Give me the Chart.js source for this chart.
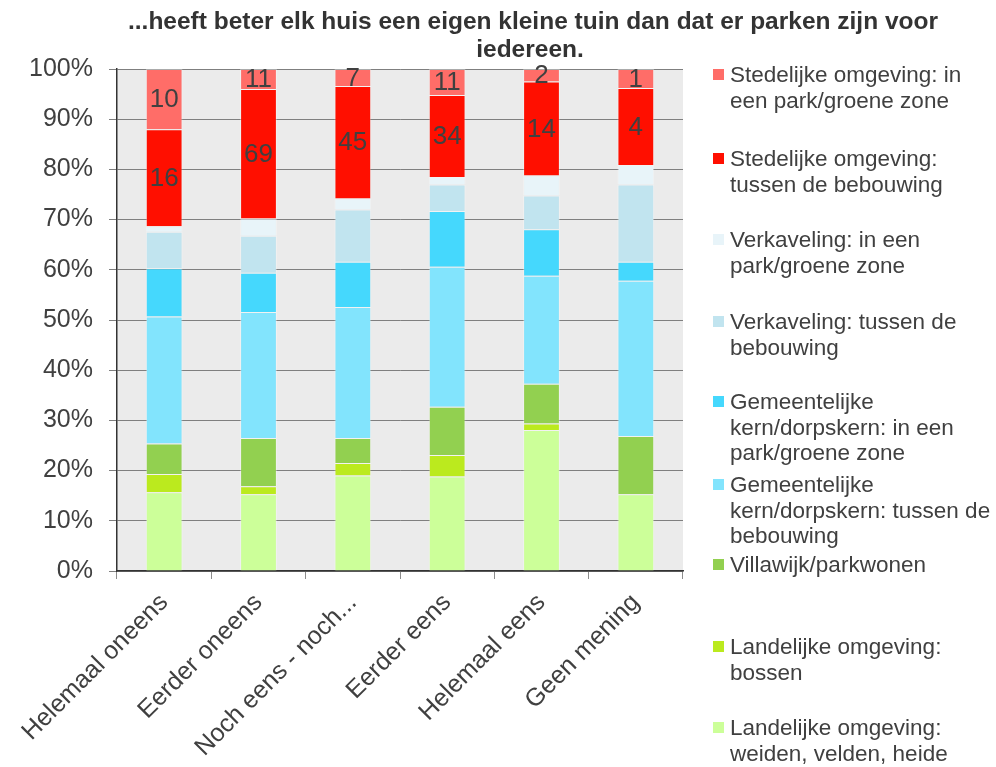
<!DOCTYPE html>
<html>
<head>
<meta charset="utf-8">
<script src="https://cdn.jsdelivr.net/npm/chart.js@4.4.1/dist/chart.umd.min.js"></script>
<style>
    body { margin: 0; background: #fff; }
    #wrap { position: relative; width: 996px; height: 767px; }
    #legenda { position: absolute; left: 713px; top: 0; font: 22.5px 'Liberation Sans', Arial, sans-serif; color: #404040; }
    .item { position: absolute; left: 0; width: 285px; }
    .item .box { position: absolute; left: 0; width: 11px; height: 11px; }
    .item .txt { position: absolute; left: 17px; width: 267px; line-height: 25.5px; }
</style>
</head>
<body>
<div id="wrap">
    <canvas id="chartTuin" width="996" height="767"></canvas>
    <div id="legenda"></div>
</div>
<script>
// Gegevens (percentages per antwoordcategorie)
const categorieen = ['Helemaal oneens', 'Eerder oneens', 'Noch eens - noch...', 'Eerder eens', 'Helemaal eens', 'Geen mening'];

const landelijkWeiden   = [15.7, 15.3, 19.0, 18.8, 28.1, 15.3];
const landelijkBossen   = [3.6, 1.6, 2.5, 4.3, 1.3, 0];
const villawijk         = [6.1, 9.6, 5.0, 9.6, 7.9, 11.6];
const gemeenteTussen    = [25.3, 25.1, 26.1, 27.9, 21.5, 30.9];
const gemeentePark      = [9.6, 7.8, 9.0, 11.1, 9.3, 3.8];
const verkavelingTussen = [7.3, 7.4, 10.4, 5.3, 6.7, 15.4];
const verkavelingPark   = [1.1, 3.4, 2.2, 1.5, 4.0, 3.9];
const stedelijkTussen   = [19.3, 25.8, 22.4, 16.3, 18.7, 15.3];
const stedelijkPark     = [12.0, 4.0, 3.4, 5.2, 2.5, 3.8];

// aantallen die in de rode segmenten staan
const aantalStedelijkTussen = [16, 69, 45, 34, 14, 4];
const aantalStedelijkPark   = [10, 11, 7, 11, 2, 1];

const titelRegels = ['...heeft beter elk huis een eigen kleine tuin dan dat er parken zijn voor', 'iedereen.'];

const FONT = "'Liberation Sans', Arial, sans-serif";
const TEKST = '#404040';

// reeksen van onder naar boven
const reeksen = [
    { naam: 'Landelijke omgeving: weiden, velden, heide', data: landelijkWeiden, kleur: '#CCFF99' },
    { naam: 'Landelijke omgeving: bossen', data: landelijkBossen, kleur: '#BBEA1E' },
    { naam: 'Villawijk/parkwonen', data: villawijk, kleur: '#92D050' },
    { naam: 'Gemeentelijke kern/dorpskern: tussen de bebouwing', data: gemeenteTussen, kleur: '#82E4FD' },
    { naam: 'Gemeentelijke kern/dorpskern: in een park/groene zone', data: gemeentePark, kleur: '#45D8FD' },
    { naam: 'Verkaveling: tussen de bebouwing', data: verkavelingTussen, kleur: '#C1E4EF' },
    { naam: 'Verkaveling: in een park/groene zone', data: verkavelingPark, kleur: '#E8F4F9' },
    { naam: 'Stedelijke omgeving: tussen de bebouwing', data: stedelijkTussen, kleur: '#FF0F00', aantallen: aantalStedelijkTussen },
    { naam: 'Stedelijke omgeving: in een park/groene zone', data: stedelijkPark, kleur: '#FF6D68', aantallen: aantalStedelijkPark }
];

// grijze achtergrond van het plotvlak
const achtergrondPlugin = {
    id: 'achtergrond',
    beforeDraw(chart) {
        const { ctx, chartArea } = chart;
        ctx.save();
        ctx.fillStyle = '#EBEBEB';
        ctx.fillRect(chartArea.left, chartArea.top, chartArea.right - chartArea.left, chartArea.bottom - chartArea.top);
        ctx.restore();
    }
};

// titel boven de grafiek
const titelPlugin = {
    id: 'titel',
    afterDraw(chart) {
        const ctx = chart.ctx;
        ctx.save();
        ctx.font = 'bold 24.5px ' + FONT;
        ctx.fillStyle = '#333333';
        ctx.textAlign = 'center';
        ctx.textBaseline = 'middle';
        ctx.fillText(titelRegels[0], 533, 22);
        ctx.fillText(titelRegels[1], 530, 50);
        ctx.restore();
    }
};

// aantallen in de segmenten
const aantalPlugin = {
    id: 'aantallen',
    afterDatasetsDraw(chart) {
        const ctx = chart.ctx;
        ctx.save();
        ctx.font = '26px ' + FONT;
        ctx.fillStyle = TEKST;
        ctx.textAlign = 'center';
        ctx.textBaseline = 'middle';
        chart.data.datasets.forEach((ds, i) => {
            if (!ds.aantallen) return;
            chart.getDatasetMeta(i).data.forEach((bar, j) => {
                const p = bar.getCenterPoint();
                ctx.fillText(String(ds.aantallen[j]), p.x, p.y + 1);
            });
        });
        ctx.restore();
    }
};

function maakGrafiek() {
    const ctx = document.getElementById('chartTuin');

    new Chart(ctx, {
        type: 'bar',
        data: {
            labels: categorieen,
            datasets: reeksen.map(r => ({
                label: r.naam,
                data: r.data,
                aantallen: r.aantallen,
                backgroundColor: r.kleur,
                borderColor: 'rgba(255,255,255,0.35)',
                borderWidth: 1,
                categoryPercentage: 1,
                barPercentage: 0.39,
            }))
        },
        options: {
            responsive: false,
            animation: false,
            layout: {
                padding: { top: 69, right: 313, left: 0, bottom: 0 }
            },
            scales: {
                x: {
                    stacked: true,
                    grid: {
                        offset: true,
                        drawOnChartArea: false,
                        color: '#8C8C8C',
                        tickLength: 8,
                    },
                    border: { color: '#333333', width: 1.5 },
                    ticks: {
                        autoSkip: false,
                        minRotation: 45,
                        maxRotation: 45,
                        color: TEKST,
                        font: { family: FONT, size: 25 },
                        padding: 9,
                    },
                    afterFit(scale) { scale.height = 196; }
                },
                y: {
                    stacked: true,
                    min: 0,
                    max: 100,
                    grid: {
                        color: '#7F7F7F',
                        tickLength: 8,
                    },
                    border: { color: '#333333', width: 1.5 },
                    ticks: {
                        stepSize: 10,
                        color: TEKST,
                        font: { family: FONT, size: 25 },
                        padding: 16,
                        callback: v => v + '%',
                    },
                    afterFit(scale) { scale.width = 117; }
                }
            },
            plugins: {
                legend: { display: false },
                tooltip: { enabled: false },
                title: { display: false }
            }
        },
        plugins: [achtergrondPlugin, aantalPlugin, titelPlugin]
    });
}

// legenda rechts, van boven naar onder
const legendaTop = [62, 146, 227, 309, 389, 472, 552, 634, 715];

function maakLegenda() {
    const el = document.getElementById('legenda');
    const volgorde = reeksen.slice().reverse();
    el.innerHTML = volgorde.map((r, i) => `
        <div class="item" style="top:${legendaTop[i]}px">
            <div class="box" style="top:7px;background:${r.kleur}"></div>
            <div class="txt">${r.naam}</div>
        </div>
    `).join('');
}

maakGrafiek();
maakLegenda();
</script>
</body>
</html>
